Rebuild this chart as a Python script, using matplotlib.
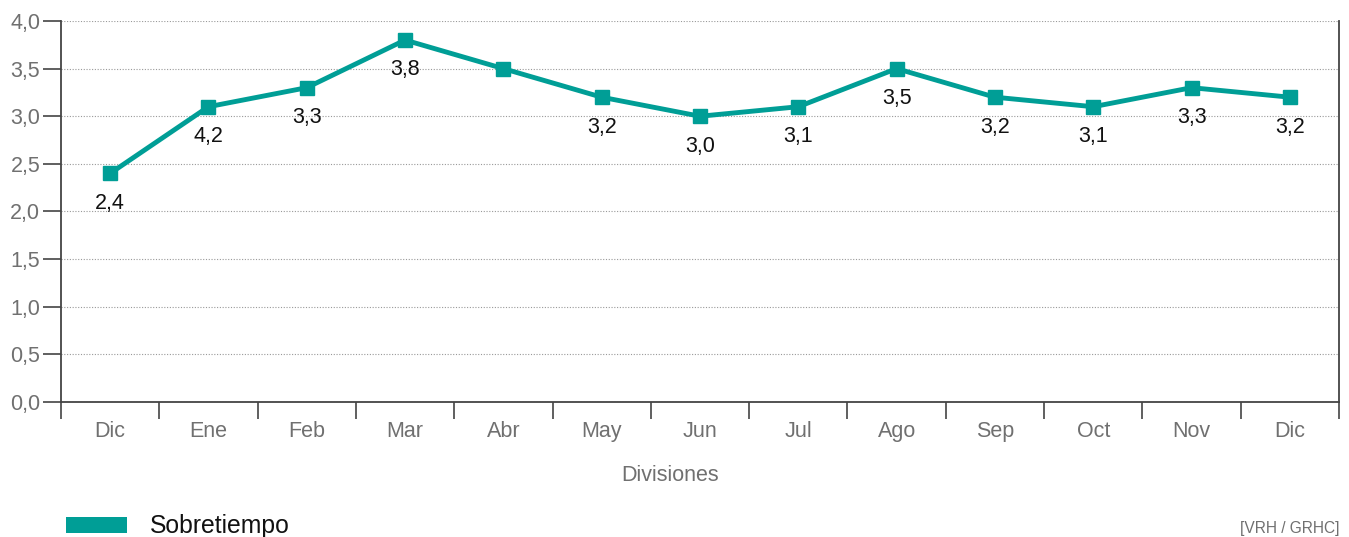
import matplotlib
matplotlib.use("Agg")
import matplotlib.pyplot as plt
from matplotlib.patches import Rectangle
from matplotlib.ticker import FuncFormatter, MultipleLocator

# Monthly overtime index
months = ["Dic", "Ene", "Feb", "Mar", "Abr", "May", "Jun", "Jul", "Ago", "Sep", "Oct", "Nov", "Dic"]
sobretiempo = [2.4, 3.1, 3.3, 3.8, 3.5, 3.2, 3.0, 3.1, 3.5, 3.2, 3.1, 3.3, 3.2]
point_labels = ["2,4", "4,2", "3,3", "3,8", None, "3,2", "3,0", "3,1", "3,5", "3,2", "3,1", "3,3", "3,2"]

series_name = "Sobretiempo"
x_title = "Divisiones"
source_note = "[VRH / GRHC]"

teal = "#009E96"
gray_text = "#707070"
plt.rcParams["font.family"] = ["Liberation Sans", "DejaVu Sans"]

fig = plt.figure(figsize=(13.49, 5.37), dpi=100)
ax = fig.add_axes([0.0452, 0.2514, 0.9474, 0.7095])

x = list(range(len(months)))
ax.plot(x, sobretiempo, color=teal, lw=3.5, marker="s", ms=10,
        markerfacecolor=teal, markeredgecolor=teal, zorder=3, clip_on=False)

for xi, yi, lab in zip(x, sobretiempo, point_labels):
    if lab:
        ax.annotate(lab, (xi, yi), xytext=(0, -14), textcoords="offset points",
                    ha="center", va="top", fontsize=15.5, color="#111111")

ax.set_xlim(-0.5, len(months) - 0.5)
ax.set_ylim(0, 4.0)
ax.yaxis.set_major_locator(MultipleLocator(0.5))
ax.yaxis.set_major_formatter(FuncFormatter(lambda v, p: f"{v:.1f}".replace(".", ",")))
ax.grid(axis="y", color="#999999", linestyle=(0, (1, 1.5)), linewidth=0.8)
ax.set_axisbelow(True)

# category boundaries carry the ticks, names sit between them
ax.set_xticks([i - 0.5 for i in range(len(months) + 1)])
ax.set_xticklabels([])
ax.set_xticks(x, minor=True)
ax.set_xticklabels(months, minor=True)
ax.tick_params(axis="x", which="major", length=12, width=1.2, color="#444444", direction="out")
ax.tick_params(axis="x", which="minor", length=0, pad=14, labelsize=15.5, labelcolor=gray_text)
ax.tick_params(axis="y", length=13, width=1.2, color="#444444", labelsize=15.5,
               labelcolor=gray_text, pad=2)

for side in ("left", "right", "bottom"):
    ax.spines[side].set_color("#444444")
    ax.spines[side].set_linewidth(1.3)
ax.spines["top"].set_visible(False)

ax.set_xlabel(x_title, fontsize=15.5, color=gray_text)
ax.xaxis.set_label_coords(0.4765, -0.165)

# legend swatch and source note
fig.patches.append(Rectangle((66 / 1349, 1 - 533 / 537), 61 / 1349, 16 / 537,
                             transform=fig.transFigure, facecolor=teal, edgecolor="none"))
fig.text(150 / 1349, 1 - 526 / 537, series_name, fontsize=17.8, color="#111111", va="center")
fig.text(1339 / 1349, 1 - 528 / 537, source_note, fontsize=11.2, color=gray_text,
         ha="right", va="center")

fig.savefig("out.png", dpi=100)
